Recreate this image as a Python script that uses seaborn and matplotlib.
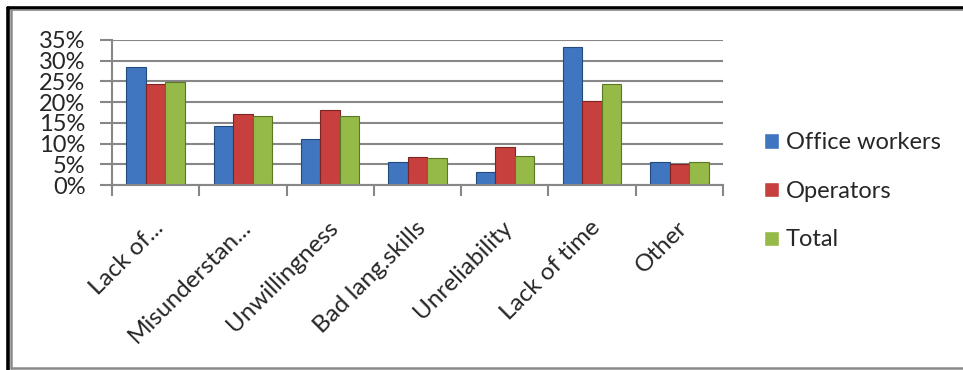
import pandas as pd
import numpy as np
import matplotlib
matplotlib.use('Agg')
import matplotlib.pyplot as plt
import matplotlib.transforms as mtransforms
import seaborn as sns
from matplotlib.lines import Line2D
from matplotlib.ticker import PercentFormatter, FixedLocator

# chart data
causes = ['Lack of...', 'Misunderstan...', 'Unwillingness', 'Bad lang.skills',
          'Unreliability', 'Lack of time', 'Other']
groups = ['Office workers', 'Operators', 'Total']
office_workers = [0.284, 0.142, 0.111, 0.055, 0.031, 0.333, 0.055]
operators = [0.243, 0.171, 0.181, 0.067, 0.092, 0.202, 0.051]
total = [0.249, 0.167, 0.167, 0.064, 0.070, 0.243, 0.055]
colors = ['#3F76BF', '#C8403D', '#95BA47']
edges = ['#24497D', '#7E2422', '#5B7726']

df = pd.DataFrame({
    'cause': causes * 3,
    'group': np.repeat(groups, len(causes)),
    'value': office_workers + operators + total,
})

sns.set_style('white')
plt.rcParams['font.family'] = ['Lato', 'DejaVu Sans']

fig = plt.figure(figsize=(9.63, 3.70), dpi=100)
ax = fig.add_axes([112 / 963, 185 / 370, 611 / 963, 145 / 370])

sns.barplot(data=df, x='cause', y='value', hue='group', order=causes,
            hue_order=groups, palette=colors, width=0.67, gap=0,
            saturation=1, ax=ax)

# darker edges like the bevelled bars
for cont, ec in zip(ax.containers, edges):
    for bar in cont:
        bar.set_edgecolor(ec)
        bar.set_linewidth(0.8)

grid_c = '#878787'
ax.set_ylim(0, 0.35)
ax.set_xlim(-0.5, len(causes) - 0.5)
ax.set_yticks(np.arange(0, 0.351, 0.05))
ax.yaxis.set_major_formatter(PercentFormatter(1.0, decimals=0))
ax.yaxis.grid(True, color=grid_c, linewidth=1.5)
ax.set_axisbelow(True)
ax.tick_params(axis='y', left=True, length=9, width=1.5, color=grid_c,
               labelsize=17, pad=10)

ax.xaxis.set_minor_locator(FixedLocator(np.arange(-0.5, len(causes), 1)))
ax.tick_params(axis='x', which='major', length=0, labelsize=17.5, pad=23)
ax.tick_params(axis='x', which='minor', bottom=True, length=8, width=1.5,
               color=grid_c)
shift = mtransforms.ScaledTranslation(-3 / 100, 0, fig.dpi_scale_trans)
for lab in ax.get_xticklabels():
    lab.set_rotation(45)
    lab.set_ha('right')
    lab.set_va('top')
    lab.set_rotation_mode('anchor')
    lab.set_transform(lab.get_transform() + shift)

for side in ['top', 'right']:
    ax.spines[side].set_visible(False)
for side in ['left', 'bottom']:
    ax.spines[side].set_color(grid_c)
    ax.spines[side].set_linewidth(1.5)
ax.set_xlabel('')
ax.set_ylabel('')

sns.move_legend(ax, loc='upper left', bbox_to_anchor=(743 / 963, 0.70),
                bbox_transform=fig.transFigure, frameon=False, title=None,
                fontsize=17, handlelength=0.62, handleheight=0.62,
                handletextpad=0.3, labelspacing=1.17)

# outer frame: black line top/left with a grey inner line
fig.add_artist(Line2D([7.5 / 963, 1], [1 - 7.5 / 370] * 2, color='black', lw=2.6))
fig.add_artist(Line2D([7.5 / 963] * 2, [0, 1 - 7.5 / 370], color='black', lw=2.6))
fig.add_artist(Line2D([10.5 / 963, 1], [1 - 10 / 370] * 2, color='#8a8a8a', lw=1.2))
fig.add_artist(Line2D([10.5 / 963] * 2, [2 / 370, 1 - 10 / 370], color='#8a8a8a', lw=1.8))
fig.add_artist(Line2D([10.5 / 963, 1], [2 / 370] * 2, color='#8a8a8a', lw=1.8))

fig.savefig('out.png', dpi=100)
